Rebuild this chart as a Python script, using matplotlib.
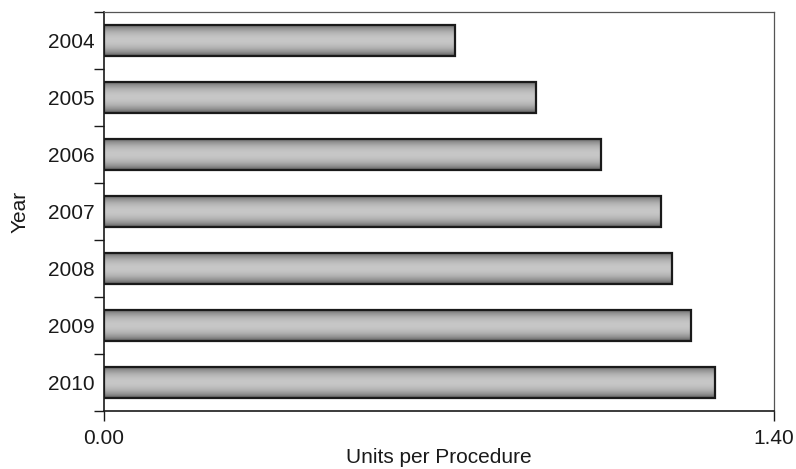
import numpy as np
import matplotlib.pyplot as plt

plt.rcParams['font.family'] = ['Liberation Sans', 'DejaVu Sans']

# Data
years = ['2004', '2005', '2006', '2007', '2008', '2009', '2010']
units = [0.733, 0.903, 1.038, 1.164, 1.187, 1.226, 1.277]

fig = plt.figure(figsize=(7.96, 4.69), dpi=100)
ax = fig.add_axes([0.1307, 0.1237, 0.8417, 0.8507])

# vertical grey gradient: dark at edges, light in middle
t = np.linspace(0, 1, 64)
shade = 0.30 + 0.48 * np.sin(np.pi * t) ** 0.6
grad = shade[:, None]

bar_h = 0.55
pos = np.arange(len(years))
bars = ax.barh(pos, units, height=bar_h, color='none', edgecolor='#1a1a1a', linewidth=1.6, zorder=3)
for b in bars:
    x0, y0 = b.get_x(), b.get_y()
    w, h = b.get_width(), b.get_height()
    ax.imshow(grad, cmap='gray', vmin=0, vmax=1, aspect='auto',
              extent=(x0, x0 + w, y0 + h, y0), zorder=2, interpolation='bicubic')

ax.set_xlim(0, 1.40)
ax.set_ylim(len(years) - 0.5, -0.5)

ax.set_xticks([0, 1.40])
ax.set_xticklabels(['0.00', '1.40'])
ax.set_yticks(np.arange(len(years) + 1) - 0.5)
ax.set_yticklabels([])
ax.set_yticks(pos, minor=True)
ax.set_yticklabels(years, minor=True)
ax.tick_params(axis='y', which='minor', length=0, pad=7)
ax.tick_params(axis='y', which='major', length=7, width=1, direction='out')
ax.tick_params(axis='x', length=7, width=1, direction='out', pad=6)
ax.tick_params(which='both', labelsize=15, colors='#1a1a1a')

for s in ['left', 'bottom']:
    ax.spines[s].set_color('#1a1a1a')
    ax.spines[s].set_linewidth(1.2)
for s in ['top', 'right']:
    ax.spines[s].set_color('#555555')
    ax.spines[s].set_linewidth(0.9)

ax.set_xlabel('Units per Procedure', fontsize=15, color='#1a1a1a', labelpad=0)
ax.set_ylabel('Year', fontsize=15, color='#1a1a1a', labelpad=13)

fig.savefig('out.png', dpi=100)
